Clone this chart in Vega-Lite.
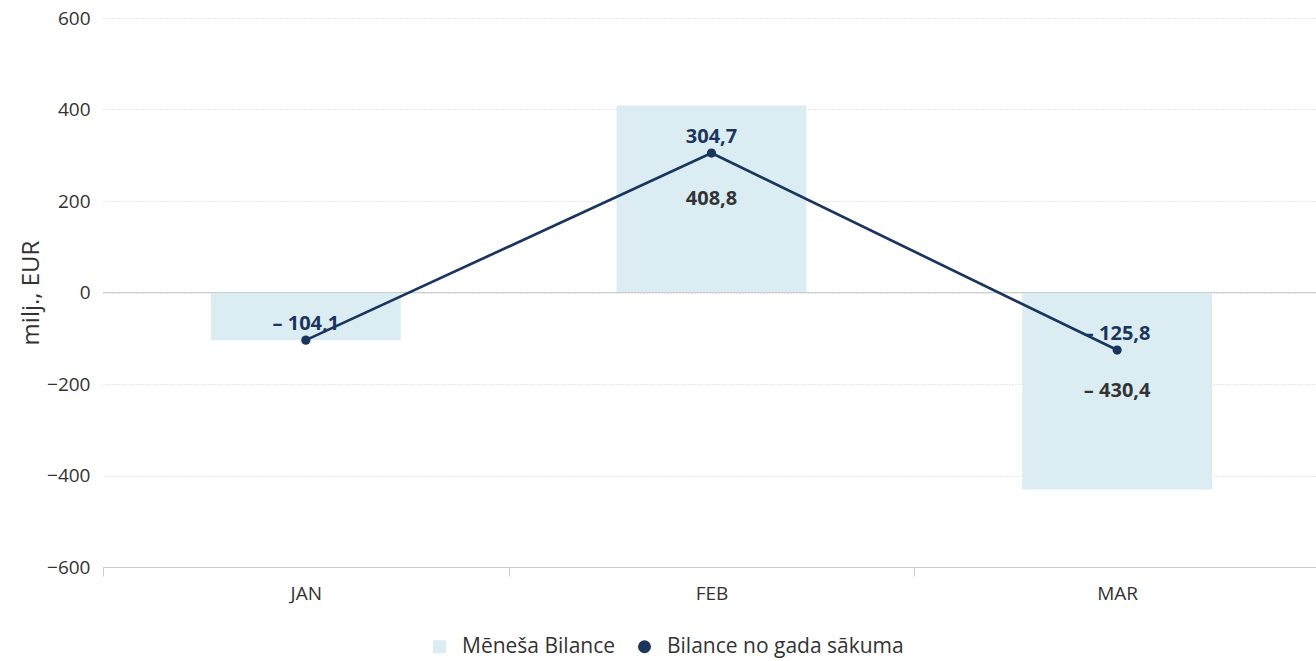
{
  "$schema": "https://vega.github.io/schema/vega-lite/v6.json",
  "width": 1217,
  "height": 549,
  "autosize": {"type": "none"},
  "padding": {"left": 103, "top": 18, "right": 0, "bottom": 94},
  "background": "#ffffff",
  "config": {"view": {"stroke": null}},
  "data": {"values": [
    {"month": "JAN", "monthly": -104.1, "ytd": -104.1},
    {"month": "FEB", "monthly": 408.8, "ytd": 304.7},
    {"month": "MAR", "monthly": -430.4, "ytd": -125.8}
  ]},
  "transform": [
    {"calculate": "datum.monthly / 2", "as": "mid"},
    {"calculate": "replace(replace(format(datum.monthly, '.1f'), '.', ','), '−', '– ')", "as": "mLabel"},
    {"calculate": "replace(replace(format(datum.ytd, '.1f'), '.', ','), '−', '– ')", "as": "yLabel"}
  ],
  "encoding": {
    "x": {
      "field": "month", "type": "nominal", "sort": null,
      "scale": {"paddingInner": 0, "paddingOuter": 0},
      "axis": {
        "title": null, "labelAngle": 0, "labelFont": "Open Sans", "labelFontSize": 19,
        "labelColor": "#333333", "labelPadding": 8, "tickBand": "extent", "tickSize": 9,
        "tickColor": "#cccccc", "domainColor": "#cccccc", "domainWidth": 1, "grid": false
      }
    }
  },
  "layer": [
    {
      "mark": {"type": "bar", "color": "#dbedf3", "width": {"band": 0.468}},
      "encoding": {
        "y": {
          "field": "monthly", "type": "quantitative",
          "scale": {"domain": [-600, 600], "nice": false},
          "axis": {
            "title": "milj., EUR", "values": [-600, -400, -200, 0, 200, 400, 600],
            "titleFont": "Open Sans", "titleFontSize": 24, "titleFontWeight": "normal",
            "titleColor": "#333333", "titlePadding": 3,
            "labelFont": "Open Sans", "labelFontSize": 19, "labelColor": "#333333",
            "labelPadding": 13, "ticks": false, "domain": false,
            "grid": true, "gridColor": "#d0d0d0", "gridDash": [1, 2]
          }
        }
      }
    },
    {
      "mark": {"type": "rule", "color": "#cccccc", "strokeWidth": 1},
      "encoding": {"y": {"datum": 0}, "x": {"value": 0}, "x2": {"value": 1217}}
    },
    {
      "mark": {"type": "line", "color": "#1b365d", "strokeWidth": 2.7},
      "encoding": {"y": {"field": "ytd", "type": "quantitative"}}
    },
    {
      "mark": {"type": "point", "filled": true, "opacity": 1, "size": 85},
      "encoding": {
        "y": {"field": "ytd", "type": "quantitative"},
        "color": {
          "datum": "Bilance no gada sākuma",
          "scale": {"domain": ["Mēneša Bilance", "Bilance no gada sākuma"], "range": ["#dbedf3", "#1b365d"]},
          "legend": {
            "title": null, "orient": "none", "legendX": 326, "legendY": 618, "direction": "horizontal",
            "labelFont": "Open Sans", "labelFontSize": 21, "labelColor": "#333333", "labelLimit": 0,
            "symbolSize": 170, "columnPadding": 18, "labelOffset": 12
          }
        },
        "shape": {
          "datum": "Bilance no gada sākuma",
          "scale": {"domain": ["Mēneša Bilance", "Bilance no gada sākuma"], "range": ["square", "circle"]},
          "legend": {
            "title": null, "orient": "none", "legendX": 326, "legendY": 618, "direction": "horizontal",
            "labelFont": "Open Sans", "labelFontSize": 21, "labelColor": "#333333", "labelLimit": 0,
            "symbolSize": 170, "columnPadding": 18, "labelOffset": 12
          }
        }
      }
    },
    {
      "transform": [{"filter": "datum.month != 'JAN'"}],
      "mark": {"type": "text", "font": "Open Sans", "fontSize": 20, "fontWeight": "bold", "color": "#333333", "baseline": "middle"},
      "encoding": {
        "y": {"field": "mid", "type": "quantitative"},
        "text": {"field": "mLabel"}
      }
    },
    {
      "mark": {"type": "text", "font": "Open Sans", "fontSize": 20, "fontWeight": "bold", "color": "#1b365d", "baseline": "middle", "dy": -16},
      "encoding": {
        "y": {"field": "ytd", "type": "quantitative"},
        "text": {"field": "yLabel"}
      }
    }
  ]
}
